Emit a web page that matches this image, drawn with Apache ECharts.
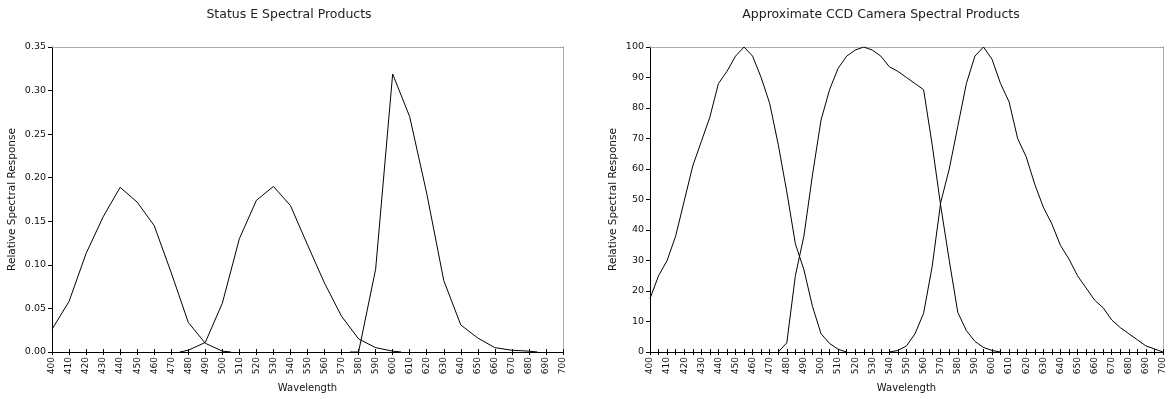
<!DOCTYPE html>
<html>
<head>
<meta charset="utf-8">
<script src="https://cdn.jsdelivr.net/npm/echarts@6/dist/echarts.min.js"></script>
<style>html,body{margin:0;padding:0;background:#fff;}#c{width:1169px;height:399px;}</style>
</head>
<body>
<div id="c"></div>
<script>
// ---- Left chart: Status E Spectral Products ----
var leftTitle = 'Status E Spectral Products';
var s1W = [400,410,420,430,440,450,460,470,480,490,500,505];
var s1V = [0.026,0.058,0.113,0.155,0.189,0.172,0.145,0.091,0.034,0.010,0.001,0.000];
var s2W = [475,480,490,500,510,520,530,540,550,560,570,580,590,600,605];
var s2V = [0.000,0.002,0.011,0.056,0.130,0.174,0.190,0.168,0.123,0.079,0.041,0.015,0.005,0.001,0.000];
var s3W = [575,580,590,600,610,620,630,640,650,660,670,680,685];
var s3V = [0.000,0.000,0.095,0.319,0.270,0.182,0.082,0.031,0.016,0.005,0.002,0.001,0.000];

// ---- Right chart: Approximate CCD Camera Spectral Products ----
var rightTitle = 'Approximate CCD Camera Spectral Products';
var bW = [400,405,410,415,420,425,430,435,440,445,450,455,460,465,470,475,480,485,490,495,500,505,510,515];
var bV = [17.5,25,30,38,49.5,61,69,77,88,92,97,100,97,90,81.5,68,52.5,35.5,27,15,6,2.8,0.9,0];
var gW = [475,480,485,490,495,500,505,510,515,520,525,530,535,540,545,550,555,560,565,570,575,580,585,590,595,600,605];
var gV = [0,3,25,38,58,76,86,93,97,99,100,99,97,93.5,92,90,88,86,68,48,30,13,7,3.5,1.5,0.5,0];
var rW = [540,545,550,555,560,565,570,575,580,585,590,595,600,605,610,615,620,625,630,635,640,645,650,655,660,665,670,675,680,685,690,695,700];
var rV = [0,0.5,2,6,12.7,28,49,60,74,88,97,100,96,88,82,70,64,55,47.5,42,35,30.5,25,21,17,14.5,10.5,8,6,4,2,1,0];

var xName = 'Wavelength';
var yName = 'Relative Spectral Response';

function pairs(w, v){ return w.map(function(x,i){ return [x, v[i]]; }); }

var FONT = 'DejaVu Sans';
var TXT = '#111';

function baseX(grid, interval, labelFmt){
  return {
    type:'value', gridIndex:grid, position:'bottom', min:400, max:700, interval:interval,
    name:xName, nameLocation:'middle', nameGap:31,
    nameTextStyle:{fontFamily:FONT, fontSize:10, color:TXT},
    axisLine:{show:true, onZero:false, lineStyle:{color:'#000', width:1}},
    axisTick:{show:true, inside:false, length:3, lineStyle:{color:'#000', width:1}},
    axisLabel:{show:true, rotate:90, margin:5, fontFamily:FONT, fontSize:9, color:TXT, formatter:labelFmt},
    splitLine:{show:false}
  };
}
function innerX(grid, interval){
  return {
    type:'value', gridIndex:grid, position:'bottom', min:400, max:700, interval:interval,
    axisLine:{show:false}, axisLabel:{show:false}, splitLine:{show:false},
    axisTick:{show:true, inside:true, length:3, lineStyle:{color:'#000', width:1}}
  };
}
function topX(grid){
  return {
    type:'value', gridIndex:grid, position:'top', min:400, max:700,
    axisLine:{show:true, onZero:false, lineStyle:{color:'#999', width:1, type:'dotted'}},
    axisTick:{show:false}, axisLabel:{show:false}, splitLine:{show:false}
  };
}
function baseY(grid, max, interval, fmt, gap){
  return {
    type:'value', gridIndex:grid, position:'left', min:0, max:max, interval:interval,
    name:yName, nameLocation:'middle', nameGap:gap, nameRotate:90,
    nameTextStyle:{fontFamily:FONT, fontSize:10.5, color:TXT},
    axisLine:{show:true, onZero:false, lineStyle:{color:'#000', width:1}},
    axisTick:{show:true, length:4, lineStyle:{color:'#000', width:1}},
    axisLabel:{fontFamily:FONT, fontSize:9.5, color:TXT, margin:6, formatter:fmt},
    splitLine:{show:false}
  };
}
function rightY(grid, max){
  return {
    type:'value', gridIndex:grid, position:'right', min:0, max:max,
    axisLine:{show:true, onZero:false, lineStyle:{color:'#999', width:1, type:'dotted'}},
    axisTick:{show:false}, axisLabel:{show:false}, splitLine:{show:false}
  };
}
function line(data, xi, yi){
  return {
    type:'line', data:data, xAxisIndex:xi, yAxisIndex:yi, showSymbol:false, symbol:'none',
    lineStyle:{color:'#000', width:1}, silent:true, animation:false
  };
}

var chart = echarts.init(document.getElementById('c'), null, {renderer:'canvas'});
chart.setOption({
  animation:false,
  backgroundColor:'#fff',
  title:[
    {text:leftTitle, left:284, top:3, textAlign:'center', textStyle:{fontFamily:FONT, fontSize:12.5, fontWeight:'normal', color:'#222'}},
    {text:rightTitle, left:876, top:3, textAlign:'center', textStyle:{fontFamily:FONT, fontSize:12.5, fontWeight:'normal', color:'#222'}}
  ],
  grid:[
    {left:52, right:606, top:47, bottom:47, containLabel:false},
    {left:650, right:6, top:47, bottom:47, containLabel:false}
  ],
  xAxis:[
    baseX(0, 10, function(v){ return String(v); }),
    innerX(0, 10),
    topX(0),
    baseX(1, 5, function(v){ return v % 10 === 0 ? String(v) : ''; }),
    innerX(1, 5),
    topX(1)
  ],
  yAxis:[
    baseY(0, 0.35, 0.05, function(v){ return v.toFixed(2); }, 34),
    rightY(0, 0.35),
    baseY(1, 100, 10, function(v){ return String(v); }, 31),
    rightY(1, 100)
  ],
  series:[
    line(pairs(s1W, s1V), 0, 0),
    line(pairs(s2W, s2V), 0, 0),
    line(pairs(s3W, s3V), 0, 0),
    line(pairs(bW, bV), 3, 2),
    line(pairs(gW, gV), 3, 2),
    line(pairs(rW, rV), 3, 2)
  ]
});
</script>
</body>
</html>
